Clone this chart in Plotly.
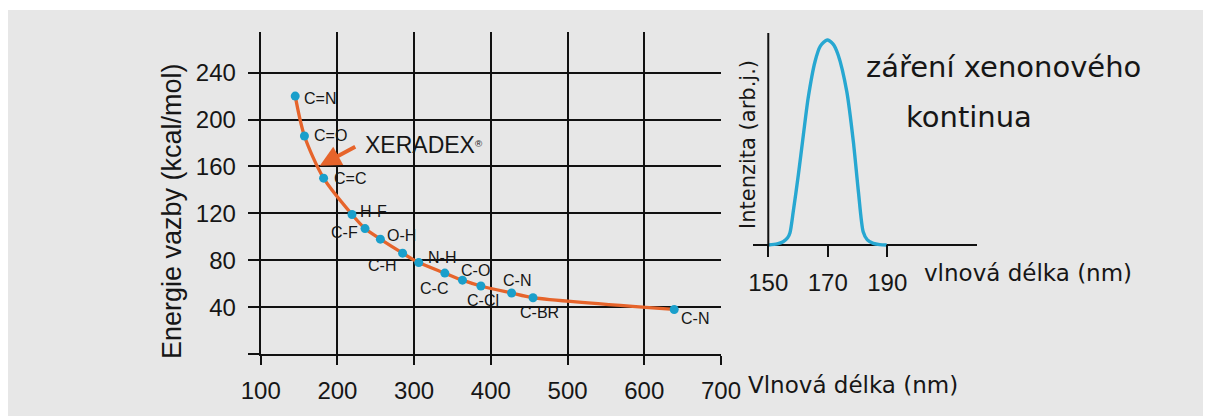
import plotly.graph_objects as go

# ---------------- data ----------------
# left chart: bond energy vs wavelength
wavelength_nm = [145, 157, 182, 219, 236, 256, 285, 306, 340, 363, 387, 427, 455, 639]
energy_kcal = [220, 186, 150, 119, 107, 98, 86, 78, 69, 63, 58, 52, 48, 38]
bond_labels = ["C=N", "C=O", "C=C", "H-F", "C-F", "O-H", "C-H", "N-H",
               "C-C", "C-O", "C-Cl", "C-N", "C-BR", "C-N"]
x_ticks = [100, 200, 300, 400, 500, 600, 700]
y_ticks = [0, 40, 80, 120, 160, 200, 240]
y_ticktext = ["", "40", "80", "120", "160", "200", "240"]

# right chart: xenon excimer emission
xe_wavelength = [150.0, 153.0, 155.0, 156.5, 157.3, 158.4, 160.1, 161.8, 163.4, 165.7,
                 167.5, 169.8, 171.8, 173.5, 176.4, 178.6, 180.3, 181.9, 183.3,
                 185.3, 187.5, 189.8]
xe_intensity = [0.0, 0.005, 0.016, 0.035, 0.06, 0.163, 0.341, 0.537, 0.716, 0.894,
                0.97, 1.0, 0.98, 0.927, 0.748, 0.504, 0.260, 0.065, 0.025,
                0.008, 0.002, 0.0]
xe_ticks = [150, 170, 190]

# label placement (style): xanchor, xshift px, yshift px
label_style = [("left", 7, -2), ("left", 8, 0), ("left", 8, 0), ("left", 6, 3),
               ("right", -5, -4), ("left", 5, 4), ("right", -5, -12), ("left", 7, 5),
               ("center", -11, -15), ("center", 13, 10), ("center", 2, -14),
               ("center", 5, 13), ("center", 6, -15), ("left", 5, -9)]

W, H = 1205, 417
NARROW = "Liberation Sans Narrow, Arial Narrow, Liberation Sans, Arial, sans-serif"
ARIAL = "Liberation Sans, Arial, sans-serif"
DEJAVU = "DejaVu Sans, Verdana, sans-serif"
ORANGE = "#e6642b"
CYAN = "#1a9fcb"
TXT = "#161616"


def px_x(p):
    return p / W


def px_y(p):
    return (H - p) / H


fig = go.Figure()

fig.add_trace(go.Scatter(
    x=wavelength_nm, y=energy_kcal, mode="lines+markers",
    line=dict(color=ORANGE, width=3.3, shape="spline", smoothing=0.8),
    marker=dict(color=CYAN, size=9),
    xaxis="x", yaxis="y", showlegend=False, hoverinfo="skip"))

fig.add_trace(go.Scatter(
    x=xe_wavelength, y=xe_intensity, mode="lines",
    line=dict(color="#27a7d1", width=3.4, shape="spline", smoothing=0.7),
    xaxis="x2", yaxis="y2", showlegend=False, hoverinfo="skip"))

annotations = []
for xv, yv, lab, (xa, dx, dy) in zip(wavelength_nm, energy_kcal, bond_labels, label_style):
    annotations.append(dict(x=xv, y=yv, xref="x", yref="y", text=lab, showarrow=False,
                            xanchor=xa, yanchor="middle", xshift=dx, yshift=dy,
                            font=dict(family=NARROW, size=16, color=TXT)))

# XERADEX arrow and text
annotations.append(dict(x=177, y=160.5, xref="x", yref="y", text="", showarrow=True,
                        ax=37, ay=-20, axref="pixel", ayref="pixel",
                        arrowhead=2, arrowsize=1.05, arrowwidth=4, arrowcolor=ORANGE))
annotations.append(dict(x=px_x(363), y=px_y(145), xref="paper", yref="paper",
                        text="XERADEX<span style=\"font-size:14px\"><sup>®</sup></span>",
                        showarrow=False, xanchor="left",
                        yanchor="middle", font=dict(family=NARROW, size=23, color=TXT)))

annotations.append(dict(x=px_x(172), y=px_y(211), xref="paper", yref="paper",
                        text="Energie vazby (kcal/mol)", textangle=-90, showarrow=False,
                        xanchor="center", yanchor="middle",
                        font=dict(family=ARIAL, size=27, color=TXT)))
annotations.append(dict(x=px_x(746), y=px_y(385), xref="paper", yref="paper",
                        text="Vlnová délka (nm)", showarrow=False,
                        xanchor="left", yanchor="middle",
                        font=dict(family=DEJAVU, size=23, color=TXT)))

annotations.append(dict(x=px_x(748), y=px_y(145), xref="paper", yref="paper",
                        text="Intenzita (arb.j.)", textangle=-90, showarrow=False,
                        xanchor="center", yanchor="middle",
                        font=dict(family=DEJAVU, size=21, color=TXT)))
annotations.append(dict(x=px_x(1003), y=px_y(67), xref="paper", yref="paper",
                        text="záření xenonového", showarrow=False,
                        xanchor="center", yanchor="middle",
                        font=dict(family=DEJAVU, size=29, color=TXT)))
annotations.append(dict(x=px_x(969), y=px_y(117), xref="paper", yref="paper",
                        text="kontinua", showarrow=False,
                        xanchor="center", yanchor="middle",
                        font=dict(family=DEJAVU, size=29, color=TXT)))
annotations.append(dict(x=px_x(1028), y=px_y(273), xref="paper", yref="paper",
                        text="vlnová délka (nm)", showarrow=False,
                        xanchor="center", yanchor="middle",
                        font=dict(family=DEJAVU, size=23, color=TXT)))

shapes = [
    dict(type="rect", xref="paper", yref="paper", x0=px_x(8), x1=px_x(1203),
         y0=px_y(416), y1=px_y(10), fillcolor="#e7e7e7", line=dict(width=0), layer="below"),
    dict(type="line", xref="x2", yref="y2", x0=150, x1=150, y0=-0.006, y1=1.034,
         line=dict(color="#111", width=2)),
]

axis_common = dict(showgrid=True, gridcolor="#111", gridwidth=2,
                   showline=True, linecolor="#111", linewidth=2,
                   ticks="outside", tickcolor="#111", tickwidth=2,
                   zeroline=False, fixedrange=True, automargin=False,
                   tickfont=dict(family=NARROW, size=24, color=TXT))

fig.update_layout(
    width=W, height=H, autosize=False,
    margin=dict(l=0, r=0, t=0, b=0, pad=0, autoexpand=False),
    showlegend=False,
    paper_bgcolor="white", plot_bgcolor="rgba(0,0,0,0)",
    xaxis=dict(domain=[px_x(260.7), px_x(721)], range=[100, 700], tickvals=x_ticks,
               ticklen=9, ticklabelstandoff=5, anchor="y", **axis_common),
    yaxis=dict(domain=[px_y(354), px_y(32)], range=[0, 274.7], tickvals=y_ticks,
               ticktext=y_ticktext, ticklen=11, ticklabelstandoff=7, anchor="x",
               **axis_common),
    xaxis2=dict(domain=[px_x(753.4), px_x(976.5)], range=[145, 220], tickvals=xe_ticks,
                ticks="inside", ticklen=12, tickwidth=2, tickcolor="#111",
                showgrid=False, zeroline=False, showline=False, anchor="y2",
                ticklabelstandoff=9, fixedrange=True, automargin=False,
                tickfont=dict(family=NARROW, size=24, color=TXT)),
    yaxis2=dict(domain=[px_y(257.3), px_y(33)], range=[-0.06, 1.034],
                showgrid=False, showticklabels=False, ticks="",
                zeroline=True, zerolinecolor="#111", zerolinewidth=2,
                showline=False, anchor="x2", fixedrange=True, automargin=False),
    annotations=annotations, shapes=shapes,
)

fig.write_html("out.html", config={"responsive": False, "displayModeBar": False})
